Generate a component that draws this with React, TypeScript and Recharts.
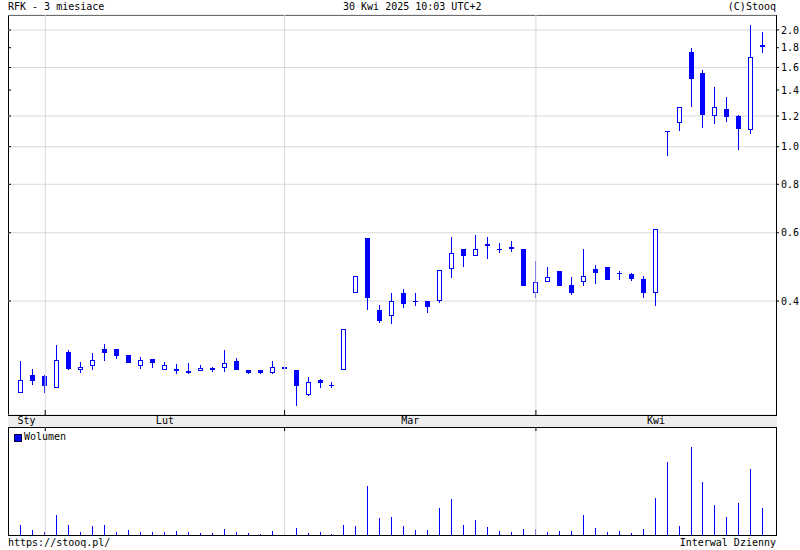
import { ComposedChart, Bar, XAxis, YAxis, CartesianGrid, ReferenceLine } from 'recharts';

const FONT = '"DejaVu Sans Mono", monospace';
const BLUE = '#0000ff';
const GRID = '#d9d9d9';

// trading days, 30 Jan - 30 Apr 2025
const DATES = [
  '2025-01-30', '2025-01-31',
  '2025-02-03', '2025-02-04', '2025-02-05', '2025-02-06', '2025-02-07',
  '2025-02-10', '2025-02-11', '2025-02-12', '2025-02-13', '2025-02-14',
  '2025-02-17', '2025-02-18', '2025-02-19', '2025-02-20', '2025-02-21',
  '2025-02-24', '2025-02-25', '2025-02-26', '2025-02-27', '2025-02-28',
  '2025-03-03', '2025-03-04', '2025-03-05', '2025-03-06', '2025-03-07',
  '2025-03-10', '2025-03-11', '2025-03-12', '2025-03-13', '2025-03-14',
  '2025-03-17', '2025-03-18', '2025-03-19', '2025-03-20', '2025-03-21',
  '2025-03-24', '2025-03-25', '2025-03-26', '2025-03-27', '2025-03-28',
  '2025-03-31',
  '2025-04-01', '2025-04-02', '2025-04-03', '2025-04-04',
  '2025-04-07', '2025-04-08', '2025-04-09', '2025-04-10', '2025-04-11',
  '2025-04-14', '2025-04-15', '2025-04-16', '2025-04-17',
  '2025-04-22', '2025-04-23', '2025-04-24', '2025-04-25',
  '2025-04-28', '2025-04-29', '2025-04-30',
];

const OPEN = [
  0.231, 0.258, 0.256, 0.238, 0.296, 0.265, 0.272, 0.301, 0.301, 0.290,
  0.272, 0.284, 0.265, 0.267, 0.264, 0.264, 0.265, 0.268, 0.280, 0.266,
  0.266, 0.261, 0.270, 0.266, 0.229, 0.250, 0.243, 0.266, 0.419, 0.581,
  0.380, 0.365, 0.420, 0.400, 0.400, 0.399, 0.483, 0.544, 0.524, 0.553,
  0.540, 0.550, 0.546, 0.419, 0.449, 0.477, 0.440, 0.449, 0.483, 0.489,
  0.472, 0.469, 0.455, 0.419, 1.100, 1.149, 1.755, 1.549, 1.198, 1.251,
  1.198, 1.103, 1.825,
];
const HIGH = [
  0.280, 0.267, 0.258, 0.308, 0.299, 0.279, 0.294, 0.310, 0.301, 0.290,
  0.287, 0.284, 0.279, 0.275, 0.277, 0.273, 0.271, 0.299, 0.286, 0.266,
  0.266, 0.280, 0.270, 0.266, 0.255, 0.252, 0.248, 0.338, 0.463, 0.581,
  0.391, 0.420, 0.430, 0.420, 0.400, 0.482, 0.585, 0.546, 0.592, 0.585,
  0.565, 0.571, 0.546, 0.506, 0.490, 0.477, 0.460, 0.544, 0.495, 0.489,
  0.477, 0.472, 0.463, 0.612, 1.100, 1.264, 1.797, 1.577, 1.425, 1.343,
  1.205, 2.060, 1.976,
];
const LOW = [
  0.231, 0.243, 0.231, 0.238, 0.265, 0.261, 0.265, 0.280, 0.284, 0.277,
  0.267, 0.269, 0.265, 0.260, 0.260, 0.264, 0.263, 0.263, 0.265, 0.259,
  0.259, 0.259, 0.264, 0.214, 0.228, 0.239, 0.238, 0.266, 0.419, 0.380,
  0.352, 0.350, 0.384, 0.389, 0.373, 0.395, 0.458, 0.491, 0.523, 0.513,
  0.531, 0.534, 0.437, 0.408, 0.449, 0.437, 0.414, 0.437, 0.443, 0.454,
  0.454, 0.450, 0.408, 0.389, 0.948, 1.100, 1.268, 1.119, 1.146, 1.160,
  0.982, 1.076, 1.748,
];
const CLOSE = [
  0.251, 0.249, 0.242, 0.281, 0.267, 0.270, 0.281, 0.293, 0.289, 0.277,
  0.281, 0.277, 0.273, 0.264, 0.261, 0.268, 0.268, 0.277, 0.265, 0.261,
  0.261, 0.270, 0.267, 0.242, 0.247, 0.246, 0.243, 0.338, 0.463, 0.408,
  0.356, 0.399, 0.394, 0.400, 0.385, 0.480, 0.531, 0.522, 0.546, 0.560,
  0.546, 0.546, 0.437, 0.449, 0.460, 0.437, 0.419, 0.465, 0.472, 0.454,
  0.472, 0.455, 0.419, 0.612, 1.100, 1.264, 1.497, 1.209, 1.264, 1.191,
  1.113, 1.700, 1.815,
];
const VOLUME = [
  10, 5, 3, 20, 10, 3, 9, 10, 3, 5,
  3, 3, 3, 4, 3, 2, 2, 6, 3, 2,
  1, 4, 2, 7, 2, 3, 1, 10, 9, 49,
  17, 18, 9, 5, 5, 27, 36, 10, 15, 8,
  4, 3, 6, 6, 3, 4, 4, 20, 7, 3,
  4, 2, 6, 37, 73, 9, 88, 53, 30, 18,
  32, 66, 27,
];

const PRICE_TICKS = [0.4, 0.6, 0.8, 1.0, 1.2, 1.4, 1.6, 1.8, 2.0];
const MONTHS = ['Sty', 'Lut', 'Mar', 'Kwi'];

const X_DOMAIN: [number, number] = [-1.11, 63.06];
const PRICE_DOMAIN: [number, number] = [0.2033, 2.186];
const VOLUME_DOMAIN: [number, number] = [0, 108];

const data = DATES.map((date, i) => ({
  i,
  date,
  open: OPEN[i],
  high: HIGH[i],
  low: LOW[i],
  close: CLOSE[i],
  range: [LOW[i], HIGH[i]],
  volume: VOLUME[i],
}));

const monthStarts = DATES.map((_, i) => i).filter(
  (i) => i > 0 && DATES[i].slice(5, 7) !== DATES[i - 1].slice(5, 7)
);
const bounds = [X_DOMAIN[0], ...monthStarts, X_DOMAIN[1]];
const monthMids = MONTHS.map((_, k) => (bounds[k] + bounds[k + 1]) / 2);

function Candle(props: any) {
  const { x, y, width, height, payload } = props;
  if (x == null || y == null) return null;
  const cx = Math.floor(x + width / 2);
  const top = Math.min(y, y + height);
  const bot = Math.max(y, y + height);
  const { open, close, high, low } = payload;
  const span = Math.log(high) - Math.log(low);
  const py = (v: number) =>
    span > 0 ? top + ((Math.log(high) - Math.log(v)) / span) * (bot - top) : top;
  const bTop = Math.round(Math.min(py(open), py(close)));
  const bBot = Math.round(Math.max(py(open), py(close)));
  const up = close >= open;
  let body;
  if (bBot - bTop < 2) {
    body = <rect x={cx - 2} y={bTop} width={5} height={up ? 1 : 2} fill={BLUE} />;
  } else if (up) {
    body = (
      <rect x={cx - 1.5} y={bTop + 0.5} width={4} height={bBot - bTop - 1} fill="#fff" stroke={BLUE} strokeWidth={1} />
    );
  } else {
    body = <rect x={cx - 2} y={bTop} width={5} height={bBot - bTop} fill={BLUE} />;
  }
  return (
    <g>
      <rect x={cx} y={Math.round(top)} width={1} height={Math.max(1, Math.round(bot) - Math.round(top))} fill={BLUE} />
      {body}
    </g>
  );
}

function VolumeLine(props: any) {
  const { x, y, width, height } = props;
  if (x == null || y == null || !height) return null;
  const cx = Math.floor(x + width / 2);
  return <rect x={cx} y={Math.round(y)} width={1} height={Math.round(height)} fill={BLUE} />;
}

const textStyle: React.CSSProperties = {
  position: 'absolute',
  fontFamily: FONT,
  fontSize: 10,
  lineHeight: '12px',
  color: '#000',
  whiteSpace: 'nowrap',
};

export default function App() {
  return (
    <div style={{ position: 'absolute', left: 0, top: 0, width: 800, height: 550, background: '#fff', overflow: 'hidden' }}>
      {/* frame and date strip */}
      <div style={{ position: 'absolute', left: 8, top: 15, width: 769, height: 521, border: '1px solid #000', boxSizing: 'border-box' }} />
      <div style={{ position: 'absolute', left: 8, top: 415, width: 769, height: 13, background: '#eeeeee', borderTop: '1px solid #000', borderBottom: '1px solid #000', boxSizing: 'border-box' }} />

      <div style={{ ...textStyle, left: 8, top: 1 }}>RFK - 3 miesiace</div>
      <div style={{ ...textStyle, left: 343, top: 1 }}>30 Kwi 2025 10:03 UTC+2</div>
      <div style={{ ...textStyle, right: 24, top: 1 }}>(C)Stooq</div>
      <div style={{ ...textStyle, left: 8, top: 537 }}>https://stooq.pl/</div>
      <div style={{ ...textStyle, right: 24, top: 537 }}>Interwal Dzienny</div>

      <div style={{ position: 'absolute', left: 0, top: 0 }}>
        <ComposedChart width={800} height={415} data={data} margin={{ top: 15, right: 0, bottom: 0, left: 8 }}>
          <CartesianGrid vertical={false} stroke={GRID} />
          <XAxis
            dataKey="i"
            type="number"
            domain={X_DOMAIN}
            allowDataOverflow
            ticks={monthStarts}
            mirror
            axisLine={false}
            tickLine={{ stroke: '#000' }}
            tickSize={5}
            tickFormatter={() => ''}
          />
          <YAxis
            orientation="right"
            width={24}
            scale="log"
            domain={PRICE_DOMAIN}
            allowDataOverflow
            ticks={PRICE_TICKS}
            axisLine={false}
            tickLine={{ stroke: '#000' }}
            tickSize={3}
            tickFormatter={(v: number) => v.toFixed(1)}
            tick={{ fill: '#000', fontSize: 10, fontFamily: FONT, textAnchor: 'start' }}
          />
          <YAxis
            yAxisId="l"
            orientation="left"
            mirror
            scale="log"
            domain={PRICE_DOMAIN}
            allowDataOverflow
            ticks={PRICE_TICKS}
            axisLine={false}
            tickLine={{ stroke: '#000' }}
            tickSize={3}
            tickFormatter={() => ''}
          />
          {monthStarts.map((m) => (
            <ReferenceLine key={m} x={m} stroke={GRID} />
          ))}
          <Bar dataKey="range" barSize={5} shape={<Candle />} isAnimationActive={false} />
        </ComposedChart>
      </div>

      <div style={{ position: 'absolute', left: 0, top: 415 }}>
        <ComposedChart width={800} height={120} data={data} margin={{ top: 0, right: 24, bottom: 0, left: 8 }}>
          <XAxis
            dataKey="i"
            type="number"
            orientation="top"
            height={12}
            domain={X_DOMAIN}
            allowDataOverflow
            ticks={monthMids}
            tickFormatter={(v: number) => MONTHS[monthMids.indexOf(v)] ?? ''}
            axisLine={false}
            tickLine={false}
            tickSize={0}
            tickMargin={3}
            interval={0}
            tick={{ fill: '#000', fontSize: 10, fontFamily: FONT }}
          />
          <XAxis
            xAxisId="m"
            dataKey="i"
            type="number"
            orientation="top"
            mirror
            domain={X_DOMAIN}
            allowDataOverflow
            ticks={monthStarts}
            axisLine={false}
            tickLine={{ stroke: '#000' }}
            tickSize={4}
            tickFormatter={() => ''}
          />
          <YAxis hide domain={VOLUME_DOMAIN} />
          {monthStarts.map((m) => (
            <ReferenceLine key={m} x={m} stroke={GRID} />
          ))}
          <Bar dataKey="volume" barSize={5} shape={<VolumeLine />} isAnimationActive={false} />
        </ComposedChart>
      </div>

      <div style={{ position: 'absolute', left: 14, top: 434, width: 6, height: 6, background: BLUE, border: '1px solid #000033' }} />
      <div style={{ ...textStyle, left: 24, top: 431 }}>Wolumen</div>
    </div>
  );
}
